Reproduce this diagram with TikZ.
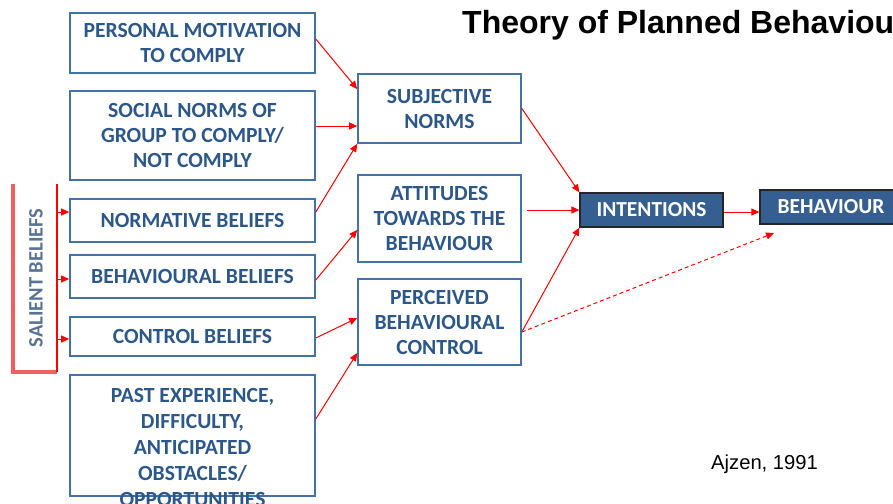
\documentclass[tikz,border=0pt]{standalone}
\usepackage{fontspec}
\setmainfont{Carlito}
\newfontfamily\arialfont{Liberation Sans}
\usetikzlibrary{arrows.meta,calc}
\definecolor{boxblue}{HTML}{4472A4}
\definecolor{txtblue}{HTML}{2C5789}
\definecolor{darkfill}{HTML}{365F91}
\definecolor{salient}{HTML}{5A7393}
\definecolor{brkred}{HTML}{F06060}
\tikzset{
  lbox/.style={draw=boxblue,line width=1.6pt,fill=white,minimum width=245pt,inner sep=0pt,
    font=\bfseries\fontsize{21.6}{25}\selectfont,text=txtblue,align=center},
  mbox/.style={lbox,minimum width=163pt},
  dbox/.style={draw=black!85,line width=1.2pt,fill=darkfill,inner sep=0pt,
    font=\bfseries\fontsize{21.4}{25}\selectfont,text=white,align=center},
  arr/.style={red,line width=1pt,-{Triangle[length=8pt,width=7pt]}},
}
\begin{document}
\begin{tikzpicture}[x=1pt,y=-1pt]
\useasboundingbox[fill=white] (0,0) rectangle (893,503);
% title
\node[anchor=base west,inner sep=0pt,font=\arialfont\bfseries\fontsize{32}{34}\selectfont] (title) at (462,34) {Theory of Planned Behaviou};
\node[anchor=base west,inner sep=0pt,font=\arialfont\fontsize{20.2}{24}\selectfont] (ajzen) at (711,469) {Ajzen, 1991};
% left boxes
\node[lbox,minimum height=60pt] (pm) at (192.5,43) {PERSONAL MOTIVATION\\TO COMPLY};
\node[lbox,minimum height=89pt] (sng) at (192.5,135.5) {SOCIAL NORMS OF\\GROUP TO COMPLY/\\NOT COMPLY};
\node[lbox,minimum height=43pt] (nb) at (192.5,220.5) {NORMATIVE BELIEFS};
\node[lbox,minimum height=43pt] (bb) at (192.5,276.5) {BEHAVIOURAL BELIEFS};
\node[lbox,minimum height=39pt] (cb) at (192.5,336.5) {CONTROL BELIEFS};
\node[lbox,minimum height=121pt] (pe) at (192.5,435.5) {};
\node[anchor=north,inner sep=0pt,font=\bfseries\fontsize{21.6}{26}\selectfont,text=txtblue,align=center] (petext) at (192.5,388)
  {PAST EXPERIENCE,\\DIFFICULTY,\\ANTICIPATED\\OBSTACLES/\\OPPORTUNITIES};
% middle boxes
\node[mbox,minimum height=69pt] (sn) at (439.5,108.5) {SUBJECTIVE\\NORMS};
\node[mbox,minimum height=87pt] (att) at (439.5,218.5) {ATTITUDES\\TOWARDS THE\\BEHAVIOUR};
\node[mbox,minimum height=86pt] (pbc) at (439.5,322) {PERCEIVED\\BEHAVIOURAL\\CONTROL};
% right boxes
\node[dbox,minimum width=143pt,minimum height=34pt] (int) at (651.5,210) {INTENTIONS};
\node[dbox,minimum width=142pt,minimum height=34pt] (beh) at (831,207) {BEHAVIOUR};
% salient beliefs bracket
\coordinate (brk) at (57,184);
\draw[brkred,line width=3.5pt] (13,184) -- (13,372) -- (57,372);
\draw[red,line width=1.2pt] (57,372) -- (brk);
\node[rotate=90,inner sep=0pt,font=\bfseries\fontsize{20.5}{24}\selectfont,text=salient] (sal) at (36,278) {SALIENT BELIEFS};
\draw[arr] ([yshift=8.5pt]nb.west -| brk) -- ([yshift=8.5pt]nb.west);
\draw[arr] ([yshift=-2.5pt]bb.west -| brk) -- ([yshift=-2.5pt]bb.west);
\draw[arr] ([yshift=-2.5pt]cb.west -| brk) -- ([yshift=-2.5pt]cb.west);
% connectors
\draw[arr] ([yshift=4pt]pm.east) -- ([yshift=19.5pt]sn.west);
\draw[arr] ([yshift=9.5pt]sng.east) -- ([yshift=-17.5pt]sn.west);
\draw[arr] ([yshift=8.5pt]nb.east) -- (sn.south west);
\draw[arr] ([yshift=-3.5pt]bb.east) -- ([yshift=-11.5pt]att.west);
\draw[arr] ([yshift=-1.5pt]cb.east) -- ([yshift=4pt]pbc.west);
\draw[arr] ([yshift=16.5pt]pe.east) -- ([yshift=-31pt]pbc.west);
\draw[arr] (sn.east) -- (int.north west);
\draw[arr,shorten <=5pt] (att.east |- int.west) -- (int.west);
\draw[arr] ([yshift=-10pt]pbc.east) -- (int.south west);
\draw[arr] ([yshift=-2pt]int.east) -- ([yshift=-2pt]int.east -| beh.west);
\coordinate (dashend) at (774,233);
\draw[arr,dash pattern=on 4pt off 3pt] ([yshift=-10pt]pbc.east) -- (dashend);
\end{tikzpicture}
\end{document}
